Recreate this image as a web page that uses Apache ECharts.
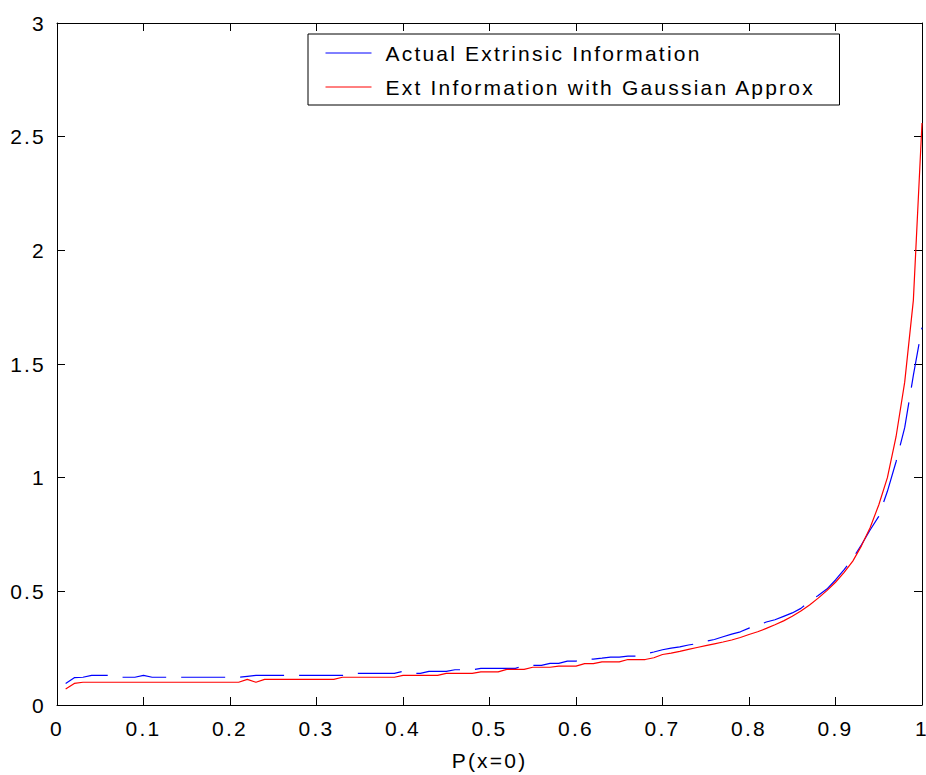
<!DOCTYPE html>
<html>
<head>
<meta charset="utf-8">
<script src="https://cdn.jsdelivr.net/npm/echarts@6/dist/echarts.min.js"></script>
<style>
  html, body { margin: 0; padding: 0; background: #fff; overflow: hidden; }
  #chart { width: 926px; height: 775px; }
  /* widely tracked lettering for every label */
  #chart svg text { letter-spacing: 2.2px; }
</style>
</head>
<body>
<div id="chart"></div>
<script>
// Sample positions P(x=0) = 0.01 ... 1.00
const pGrid = Array.from({ length: 100 }, (_, k) => (k + 1) / 100);

// Actual extrinsic information (dashed blue)
const actualExt = [
  0.095, 0.120, 0.122, 0.130, 0.130, 0.130, 0.122, 0.122, 0.122, 0.130,
  0.122, 0.122, 0.122, 0.122, 0.122, 0.122, 0.122, 0.122, 0.122, 0.122,
  0.122, 0.126, 0.130, 0.130, 0.130, 0.130, 0.130, 0.130, 0.130, 0.130,
  0.130, 0.130, 0.130, 0.139, 0.139, 0.139, 0.139, 0.139, 0.139, 0.148,
  0.139, 0.139, 0.148, 0.148, 0.148, 0.155, 0.155, 0.155, 0.161, 0.161,
  0.161, 0.161, 0.161, 0.174, 0.174, 0.174, 0.183, 0.183, 0.193, 0.193,
  0.202, 0.202, 0.206, 0.211, 0.211, 0.215, 0.215, 0.224, 0.233, 0.243,
  0.250, 0.256, 0.264, 0.270, 0.280, 0.288, 0.300, 0.312, 0.322, 0.338,
  0.350, 0.365, 0.375, 0.390, 0.405, 0.425, 0.455, 0.482, 0.510, 0.550,
  0.595, 0.645, 0.705, 0.770, 0.830, 0.940, 1.070, 1.220, 1.450, 1.660
];

// Extrinsic information under the Gaussian approximation (solid red)
const gaussExt = [
  0.070, 0.095, 0.100, 0.100, 0.100, 0.100, 0.100, 0.100, 0.100, 0.100,
  0.100, 0.100, 0.100, 0.100, 0.100, 0.100, 0.100, 0.100, 0.100, 0.100,
  0.100, 0.113, 0.100, 0.113, 0.113, 0.113, 0.113, 0.113, 0.113, 0.113,
  0.113, 0.113, 0.122, 0.122, 0.122, 0.122, 0.122, 0.122, 0.122, 0.130,
  0.130, 0.130, 0.130, 0.130, 0.139, 0.139, 0.139, 0.139, 0.146, 0.146,
  0.146, 0.157, 0.157, 0.157, 0.166, 0.166, 0.166, 0.171, 0.171, 0.171,
  0.182, 0.182, 0.190, 0.190, 0.190, 0.200, 0.200, 0.200, 0.208, 0.222,
  0.228, 0.236, 0.245, 0.253, 0.261, 0.269, 0.277, 0.286, 0.297, 0.310,
  0.322, 0.337, 0.353, 0.370, 0.390, 0.413, 0.440, 0.470, 0.503, 0.540,
  0.583, 0.633, 0.700, 0.780, 0.880, 1.000, 1.180, 1.420, 1.780, 2.560
];

const seriesNames = ['Actual Extrinsic Information', 'Ext Information with Gaussian Approx'];
const xTitle = 'P(x=0)';

const FONT = 'Liberation Sans';
const FS = 21;
const pair = (ys) => ys.map((y, k) => [pGrid[k], y]);

const chart = echarts.init(document.getElementById('chart'), null, { renderer: 'svg' });

const frameAxis = {
  axisLine: { show: true, onZero: false, lineStyle: { color: '#000', width: 1 } },
  axisTick: { show: true, inside: true, length: 8, lineStyle: { color: '#000', width: 1 } },
  splitLine: { show: false }
};

chart.setOption({
  animation: false,
  backgroundColor: '#fff',
  grid: {
    left: 57, right: 4, top: 23, bottom: 70,
    containLabel: false, outerBoundsMode: 'none'
  },
  legend: {
    orient: 'vertical',
    left: 308,
    top: 34,
    padding: [5, 14, 4, 17],
    itemGap: 6,
    itemWidth: 46,
    itemHeight: 20,
    borderColor: '#000',
    borderWidth: 1,
    borderRadius: 0,
    backgroundColor: '#fff',
    lineStyle: { type: 'solid', width: 1 },
    itemStyle: { opacity: 0 },
    textStyle: {
      fontFamily: FONT, fontSize: FS, color: '#000',
      lineHeight: 20, padding: [0, 0, 8, 9], width: 440
    },
    data: seriesNames
  },
  xAxis: [
    Object.assign({
      type: 'value', min: 0, max: 1, interval: 0.1, position: 'bottom',
      name: xTitle, nameLocation: 'middle', nameGap: 45,
      nameTextStyle: { fontFamily: FONT, fontSize: FS, color: '#000' },
      axisLabel: { fontFamily: FONT, fontSize: FS, color: '#000', margin: 13 }
    }, frameAxis),
    Object.assign({
      type: 'value', min: 0, max: 1, interval: 0.1, position: 'top',
      axisLabel: { show: false }
    }, frameAxis)
  ],
  yAxis: [
    Object.assign({
      type: 'value', min: 0, max: 3, interval: 0.5, position: 'left',
      axisLabel: { fontFamily: FONT, fontSize: FS, color: '#000', margin: 11 }
    }, frameAxis),
    Object.assign({
      type: 'value', min: 0, max: 3, interval: 0.5, position: 'right',
      axisLabel: { show: false }
    }, frameAxis)
  ],
  series: [
    {
      name: seriesNames[0], type: 'line', data: pair(actualExt),
      xAxisIndex: 0, yAxisIndex: 0,
      symbol: 'none', showSymbol: false,
      lineStyle: { color: '#0000ff', width: 1.2, type: [44, 15] },
      itemStyle: { color: '#0000ff' }
    },
    {
      name: seriesNames[1], type: 'line', data: pair(gaussExt),
      xAxisIndex: 0, yAxisIndex: 0,
      symbol: 'none', showSymbol: false,
      lineStyle: { color: '#ff0000', width: 1.2, type: 'solid' },
      itemStyle: { color: '#ff0000' }
    }
  ]
});
</script>
</body>
</html>
